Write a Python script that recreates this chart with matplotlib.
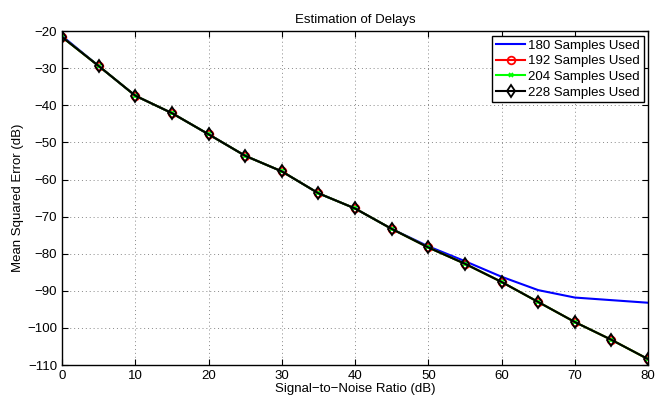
import matplotlib
matplotlib.use("Agg")
import matplotlib.pyplot as plt

plt.rcParams["font.family"] = ["Liberation Sans", "DejaVu Sans"]

snr = [0, 5, 10, 15, 20, 25, 30, 35, 40, 45, 50, 55, 60, 65, 70, 75, 80]
mse_180 = [-21.3, -29.4, -37.4, -42.1, -47.8, -53.6, -57.8, -63.7, -67.8,
           -73.3, -78.0, -82.0, -86.2, -89.8, -91.8, -92.5, -93.2]
mse_192 = [-21.6, -29.4, -37.4, -42.1, -47.8, -53.6, -57.8, -63.7, -67.8,
           -73.3, -78.3, -82.7, -87.6, -93.0, -98.4, -103.2, -108.4]
mse_204 = [-21.6, -29.4, -37.4, -42.1, -47.8, -53.6, -57.8, -63.7, -67.8,
           -73.3, -78.3, -82.7, -87.6, -93.0, -98.4, -103.2, -108.4]
mse_228 = [-21.6, -29.4, -37.4, -42.1, -47.8, -53.6, -57.8, -63.7, -67.8,
           -73.3, -78.3, -82.7, -87.6, -93.0, -98.4, -103.2, -108.4]
labels = ["180 Samples Used", "192 Samples Used", "204 Samples Used",
          "228 Samples Used"]

fig = plt.figure(figsize=(6.6, 3.99), dpi=100)
ax = fig.add_axes([0.094, 0.085, 0.888, 0.837])

ax.plot(snr, mse_180, color="#0000ff", linewidth=1.5, label=labels[0])
ax.plot(snr, mse_192, color="#ff0000", linewidth=1.5, marker="o",
        markersize=5.5, markerfacecolor="none", markeredgewidth=1.3,
        label=labels[1])
ax.plot(snr, mse_204, color="#00ff00", linewidth=1.5, marker="x",
        markersize=3.5, markeredgewidth=1.3, label=labels[2])
ax.plot(snr, mse_228, color="black", linewidth=1.5, marker="d",
        markersize=6, markerfacecolor="none", markeredgewidth=1.3,
        label=labels[3])

ax.set_xlim(0, 80)
ax.set_ylim(-110, -20)
ax.set_xticks(range(0, 81, 10))
ax.set_yticks(range(-110, -19, 10))
ax.yaxis.set_major_formatter(matplotlib.ticker.FuncFormatter(
    lambda v, _: f"\u2212{abs(int(v))}" if v < 0 else f"{int(v)}"))
ax.tick_params(direction="in", labelsize=9.5, length=4, top=True, right=True)
ax.grid(True, linestyle=(0, (1, 3)), color="#888888", linewidth=0.7)
for s in ax.spines.values():
    s.set_linewidth(1.0)

ax.set_title("Estimation of Delays", fontsize=9.5)
ax.set_xlabel("Signal\u2212to\u2212Noise Ratio (dB)", fontsize=9.5, labelpad=1)
ax.set_ylabel("Mean Squared Error (dB)", fontsize=9.5, labelpad=2)

leg = ax.legend(loc="upper right", fontsize=9.5, fancybox=False,
                framealpha=1, edgecolor="black", borderpad=0.3,
                labelspacing=0.25, handlelength=2.2, handletextpad=0.2,
                borderaxespad=0.35)
leg.get_frame().set_linewidth(1.0)

fig.savefig("out.png", dpi=100)
